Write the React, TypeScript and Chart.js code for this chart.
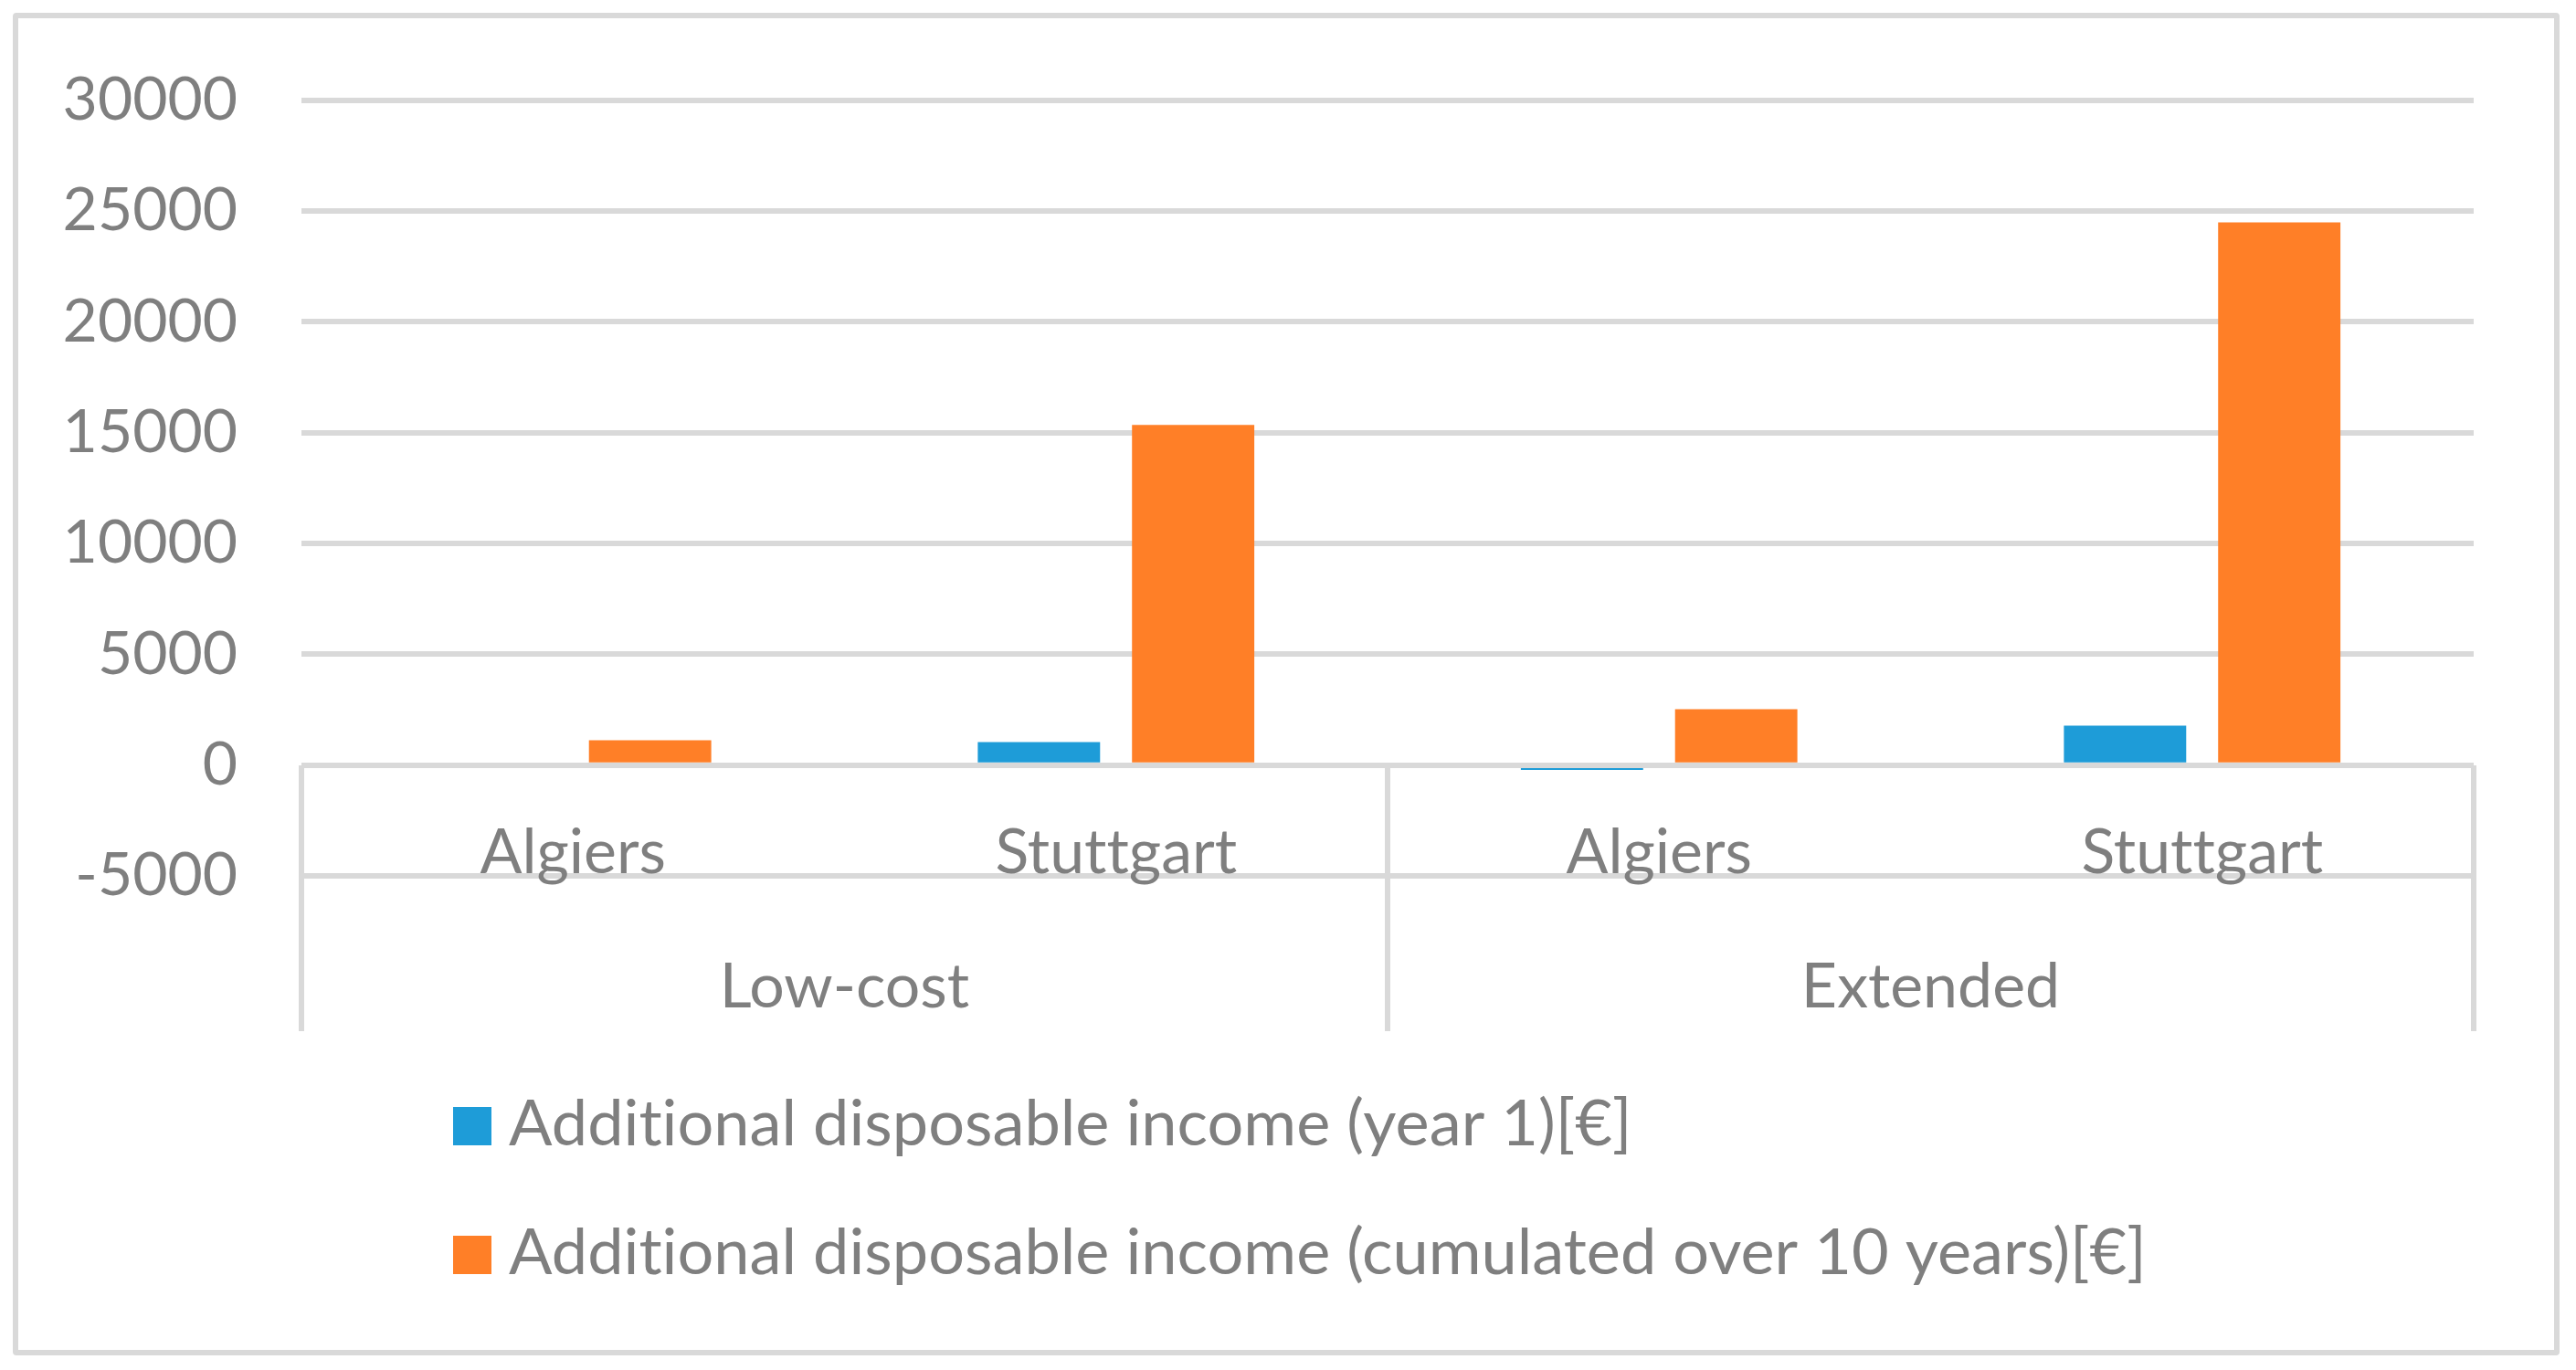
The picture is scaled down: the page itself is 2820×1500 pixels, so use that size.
import React, { useEffect, useRef } from 'react';
import { Chart, registerables } from 'chart.js';

Chart.register(...registerables);

// ---- data ----
const categories = ['Algiers', 'Stuttgart', 'Algiers', 'Stuttgart'];
const groups = ['Low-cost', 'Extended'];
const seriesNames = [
  'Additional disposable income (year 1)[€]',
  'Additional disposable income (cumulated over 10 years)[€]',
];
const year1Values = [0, 1040, -220, 1780];
const cumulatedValues = [1120, 15350, 2520, 24480];
const yMin = -5000;
const yMax = 30000;
const yStep = 5000;

// ---- style ----
const TEXT = '#7f7f7f';
const GRID = '#d9d9d9';
const BLUE = '#1e9cd8';
const ORANGE = '#ff7f27';
const FONT_FAMILY = 'Lato';
const FONT_SIZE = 68;
const Y_FONT_SIZE = 66;
const LEGEND_FONT_SIZE = 70.3;

export default function App() {
  const ref = useRef<HTMLCanvasElement>(null);

  useEffect(() => {
    if (!ref.current) return;
    const font = { family: FONT_FAMILY, size: FONT_SIZE };

    const noLigatures = {
      id: 'noLigatures',
      beforeDraw(chart: any) {
        try {
          chart.ctx.textRendering = 'optimizeSpeed';
        } catch (e) {}
      },
    };

    const zeroLineOnTop = {
      id: 'zeroLineOnTop',
      afterDatasetsDraw(chart: any) {
        const ctx = chart.ctx;
        const y = chart.scales.y.getPixelForValue(0);
        const { left, right } = chart.chartArea;
        ctx.save();
        ctx.strokeStyle = GRID;
        ctx.lineWidth = 6;
        ctx.beginPath();
        ctx.moveTo(left, Math.round(y));
        ctx.lineTo(right, Math.round(y));
        ctx.stroke();
        ctx.restore();
      },
    };

    const stackedLegend = {
      id: 'stackedLegend',
      afterDraw(chart: any) {
        const ctx = chart.ctx;
        ctx.save();
        try {
          ctx.textRendering = 'optimizeSpeed';
        } catch (e) {}
        chart.data.datasets.forEach((ds: any, i: number) => {
          const top = 1212 + i * 141;
          ctx.fillStyle = ds.backgroundColor;
          ctx.fillRect(496, top, 42, 42);
          ctx.fillStyle = TEXT;
          ctx.font = `${LEGEND_FONT_SIZE}px ${FONT_FAMILY}`;
          ctx.textAlign = 'left';
          ctx.textBaseline = 'alphabetic';
          ctx.fillText(ds.label, 557, top + 42);
        });
        ctx.restore();
      },
    };

    const chart = new Chart(ref.current, {
      type: 'bar',
      data: {
        labels: categories,
        datasets: [
          {
            label: seriesNames[0],
            data: year1Values,
            backgroundColor: BLUE,
            barPercentage: 0.793,
            categoryPercentage: 0.568,
          },
          {
            label: seriesNames[1],
            data: cumulatedValues,
            backgroundColor: ORANGE,
            barPercentage: 0.793,
            categoryPercentage: 0.568,
          },
        ],
      },
      options: {
        animation: false,
        responsive: false,
        layout: { padding: { left: 0, top: 108, right: 112, bottom: 541 } },
        plugins: {
          legend: { display: false },
          tooltip: { enabled: false },
        },
        scales: {
          y: {
            min: yMin,
            max: yMax,
            ticks: {
              stepSize: yStep,
              font: { family: FONT_FAMILY, size: Y_FONT_SIZE },
              color: TEXT,
              padding: 70,
              callback: (v: any) => String(v),
            },
            grid: { color: GRID, lineWidth: 6, drawTicks: false },
            border: { display: false },
            afterFit: (s: any) => {
              s.width = 330;
            },
          },
          x: {
            position: { y: 0 },
            offset: true,
            grid: { display: false, drawTicks: false },
            border: { display: false },
            ticks: { font, color: TEXT, padding: 56, autoSkip: false, maxRotation: 0 },
            afterFit: (s: any) => {
              s.height = 0;
            },
          },
          x2: {
            type: 'category',
            labels: groups,
            position: { y: 0 },
            offset: true,
            grid: {
              offset: true,
              drawOnChartArea: false,
              drawTicks: true,
              tickLength: 291,
              color: GRID,
              lineWidth: 6,
            },
            border: { display: false },
            ticks: { font, color: TEXT, padding: -88, autoSkip: false, maxRotation: 0 },
            afterFit: (s: any) => {
              s.height = 0;
            },
          },
        },
      } as any,
      plugins: [noLigatures, zeroLineOnTop, stackedLegend],
    });
    return () => chart.destroy();
  }, []);

  return (
    <div style={{ position: 'fixed', left: 0, top: 0, width: 2820, height: 1500, background: '#fff' }}>
      <div
        style={{
          position: 'absolute',
          left: 14,
          top: 14,
          width: 2788,
          height: 1470,
          border: `6px solid ${GRID}`,
          boxSizing: 'border-box',
          borderRadius: 4,
        }}
      />
      <canvas
        ref={ref}
        width={2820}
        height={1500}
        style={{ position: 'absolute', left: 0, top: 0, width: 2820, height: 1500 }}
      />
    </div>
  );
}
